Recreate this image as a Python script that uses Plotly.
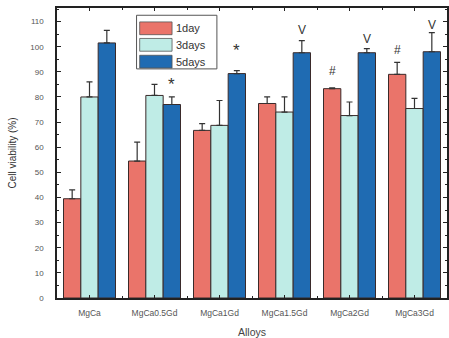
import plotly.graph_objects as go

alloys = ["MgCa", "MgCa0.5Gd", "MgCa1Gd", "MgCa1.5Gd", "MgCa2Gd", "MgCa3Gd"]
series_names = ["1day", "3days", "5days"]
day1 = [39.5, 54.5, 66.7, 77.4, 83.3, 89.0]
day3 = [80.0, 80.6, 68.7, 74.0, 72.6, 75.4]
day5 = [101.5, 77.0, 89.3, 97.6, 97.6, 98.0]
err1 = [3.5, 7.5, 2.7, 2.6, 0.3, 4.8]
err3 = [6.0, 4.4, 9.9, 6.0, 5.4, 4.0]
err5 = [5.0, 3.0, 1.2, 4.8, 1.6, 7.6]
colors = ["#EA746A", "#BFECE6", "#1F6BB2"]
# significance marks: (alloy index, series index, symbol, y position)
marks = [(1, 2, "*", 85.0), (2, 2, "*", 98.5), (3, 2, "V", 106.5),
         (4, 2, "V", 103), (5, 2, "V", 108.5), (4, 0, "#", 90.5), (5, 0, "#", 98.5)]

x = list(range(len(alloys)))
values = [day1, day3, day5]
errors = [err1, err3, err5]

fig = go.Figure()
for name, vals, errs, col in zip(series_names, values, errors, colors):
    fig.add_trace(go.Bar(
        x=x, y=vals, name=name, marker=dict(color=col, line=dict(color="#3a2a2a", width=1)),
        error_y=dict(type="data", array=errs, arrayminus=[0] * len(errs), symmetric=False,
                     color="#333333", thickness=1.2, width=3),
        showlegend=False,
    ))

group_w = 0.8
bar_w = group_w / 3
for gi, si, sym, yv in marks:
    xo = gi - group_w / 2 + bar_w * (si + 0.5)
    fig.add_annotation(x=xo, y=yv, text=sym, showarrow=False,
                       font=dict(size=17 if sym == "*" else 12, color="#333333",
                                 family="Arial, Liberation Sans"))

# legend box drawn with shapes
lx0, lx1, ly0, ly1 = 0.204, 0.41, 0.79, 0.975
fig.add_shape(type="rect", xref="paper", yref="paper", x0=lx0, x1=lx1, y0=ly0, y1=ly1,
              line=dict(color="#555555", width=1), fillcolor="white")
rows = [0.93, 0.873, 0.815]
for name, col, ry in zip(series_names, colors, rows):
    fig.add_shape(type="rect", xref="paper", yref="paper", x0=0.212, x1=0.295,
                  y0=ry - 0.022, y1=ry + 0.022, line=dict(color="#555555", width=0.8),
                  fillcolor=col)
    fig.add_annotation(xref="paper", yref="paper", x=0.300, y=ry, text=name, showarrow=False,
                       xanchor="left", yanchor="middle",
                       font=dict(size=11, color="#333333", family="Arial, Liberation Sans"))

fig.update_layout(
    width=449, height=338, barmode="group", bargap=0.2, bargroupgap=0,
    margin=dict(l=57, r=0, t=8, b=40),
    plot_bgcolor="white", paper_bgcolor="white",
    font=dict(family="Arial, Liberation Sans", color="#555555", size=8),
)
fig.update_xaxes(
    tickvals=x, ticktext=alloys, range=[-0.5, 5.5],
    showline=True, linecolor="#222222", linewidth=1.5, mirror="ticks",
    ticks="inside", ticklen=3, tickcolor="#222222", ticklabelstandoff=6,
    minor=dict(ticks="inside", ticklen=2, dtick=0.5, tick0=0, tickcolor="#222222"),
    title=dict(text="Alloys", font=dict(size=10.5, color="#444444"), standoff=12),
    tickfont=dict(size=8.5, color="#555555"), showgrid=False, zeroline=False,
)
fig.update_yaxes(
    range=[0, 115.4], tickvals=list(range(0, 111, 10)),
    showline=True, linecolor="#222222", linewidth=1.5, mirror="ticks",
    ticks="inside", ticklen=4, tickcolor="#222222", ticklabelstandoff=10,
    minor=dict(ticks="inside", ticklen=2, dtick=5, tickcolor="#222222"),
    title=dict(text="Cell viability (%)", font=dict(size=10, color="#333333"), standoff=12),
    tickfont=dict(size=8, color="#555555"), showgrid=False, zeroline=False,
)

fig.write_html("out.html")
